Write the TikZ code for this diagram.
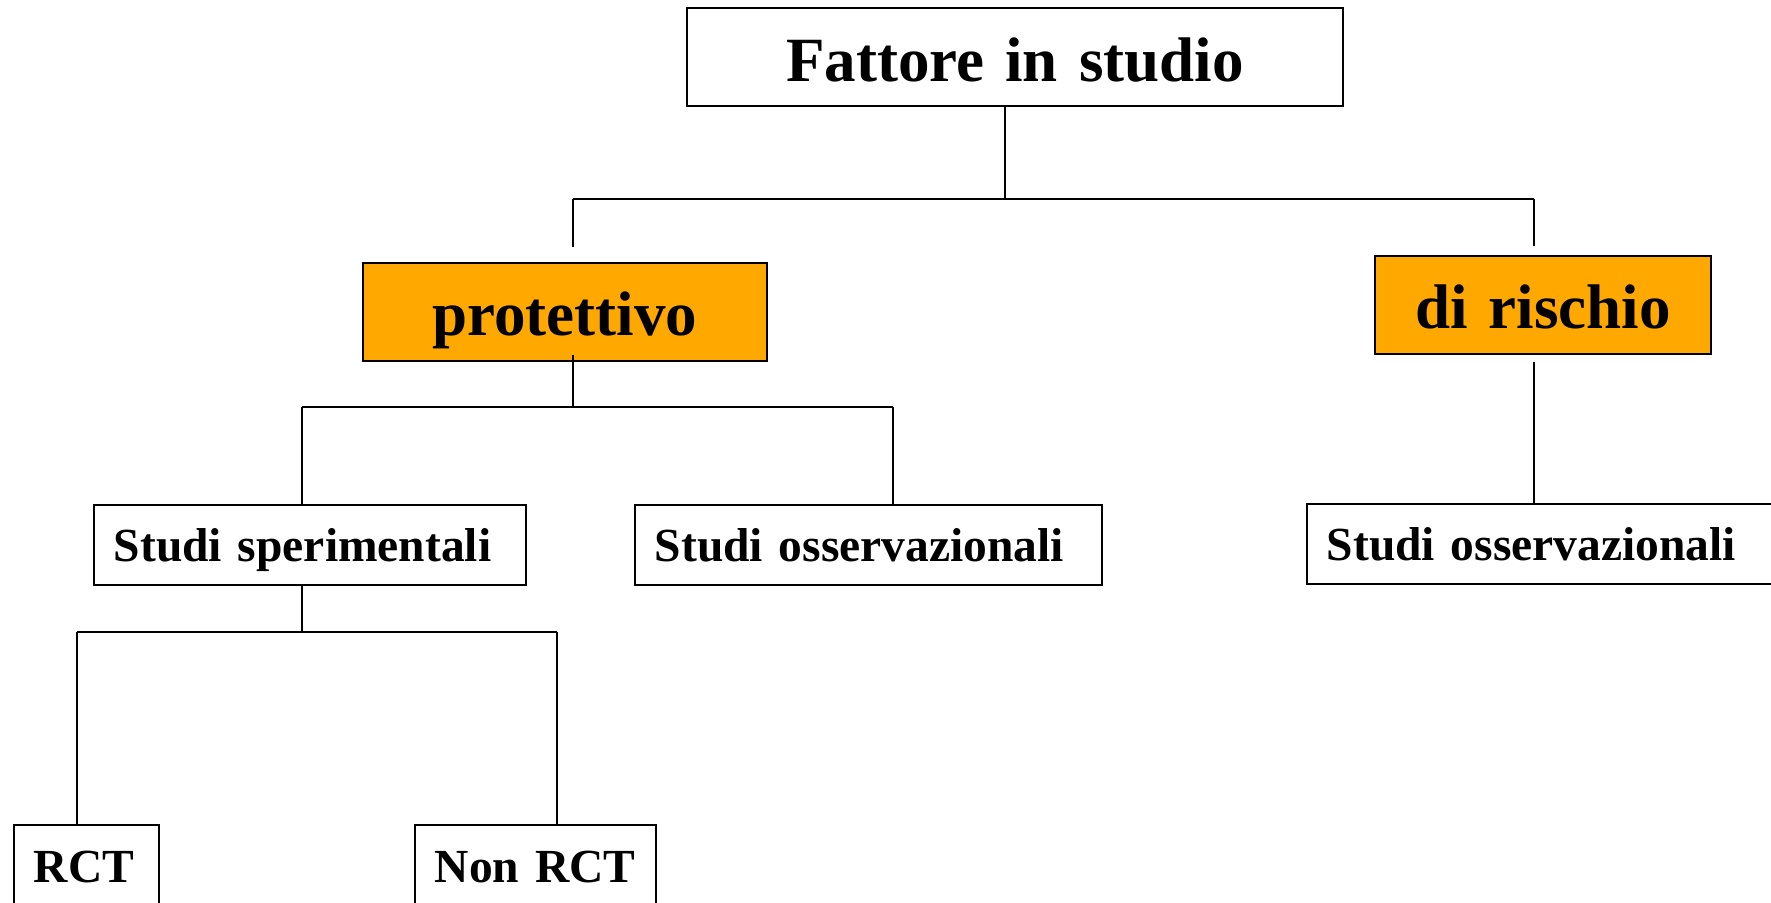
\documentclass[tikz,border=0pt]{standalone}
\usepackage{fontspec}
\setmainfont{Liberation Serif}
\definecolor{boxorange}{RGB}{255,168,0}
\begin{document}
\begin{tikzpicture}[x=1pt,y=-1pt,
  box/.style={draw=black, line width=1.8pt, anchor=north west, inner ysep=0pt,
    font=\bfseries\fontsize{47.5}{54}\selectfont},
  bigbox/.style={box, font=\bfseries\fontsize{63}{70}\selectfont,
    inner xsep=0pt, align=center},
  smallbox/.style={box, inner xsep=20pt, align=left,
    text height=57pt, text depth=23pt},
  hot/.style={fill=boxorange},
  link/.style={draw=black, line width=1.4pt}]
  \clip (0,0) rectangle (1771,902);
  \fill[white] (0,0) rectangle (1771,902);

  % top level
  \node[bigbox, text width=656pt, text height=74pt, text depth=24pt] (f) at (686,7) {Fattore in studio};

  % second level
  \node[bigbox, hot, text width=404pt, text height=73pt, text depth=25pt] (p) at (362,262) {protettivo};
  \node[bigbox, hot, text width=336pt, text height=73pt, text depth=25pt] (r) at (1374,255) {di rischio};

  % third level
  \node[smallbox, text width=392pt] (ss) at (93,504) {\mbox{Studi sperimentali}};
  \node[smallbox, text width=427pt] (so) at (634,504) {\mbox{Studi osservazionali}};
  \node[smallbox, text width=454pt] (sr) at (1306,503) {\mbox{Studi osservazionali}};

  % fourth level
  \node[smallbox, text width=105pt, text height=58pt, text depth=80pt] (rct) at (13,824) {\mbox{RCT}};
  \node[smallbox, text width=201pt, text height=58pt, text depth=80pt] (nrct) at (414,824) {\mbox{Non RCT}};

  % branching points
  \coordinate (a) at (1005,199);
  \coordinate (aL) at (573,199);
  \coordinate (aR) at (1534,199);
  \coordinate (b) at (573,407);
  \coordinate (bL) at (302,407);
  \coordinate (bR) at (893,407);
  \coordinate (c) at (302,632);
  \coordinate (cL) at (77,632);
  \coordinate (cR) at (557,632);

  % connectors
  \draw[link] (f.south -| a) -- (a);
  \draw[link] (aL) -- (aR);
  \draw[link, shorten >=15pt] (aL) -- (aL |- p.north);
  \draw[link, shorten >=9pt] (aR) -- (aR |- r.north);

  \draw[link, shorten <=-7pt] (p.south -| b) -- (b);
  \draw[link] (bL) -- (bR);
  \draw[link] (bL) -- (bL |- ss.north);
  \draw[link] (bR) -- (bR |- so.north);

  \draw[link, shorten <=7pt] (r.south -| aR) -- (aR |- sr.north);

  \draw[link] (ss.south -| c) -- (c);
  \draw[link] (cL) -- (cR);
  \draw[link] (cL) -- (cL |- rct.north);
  \draw[link] (cR) -- (cR |- nrct.north);
\end{tikzpicture}
\end{document}
